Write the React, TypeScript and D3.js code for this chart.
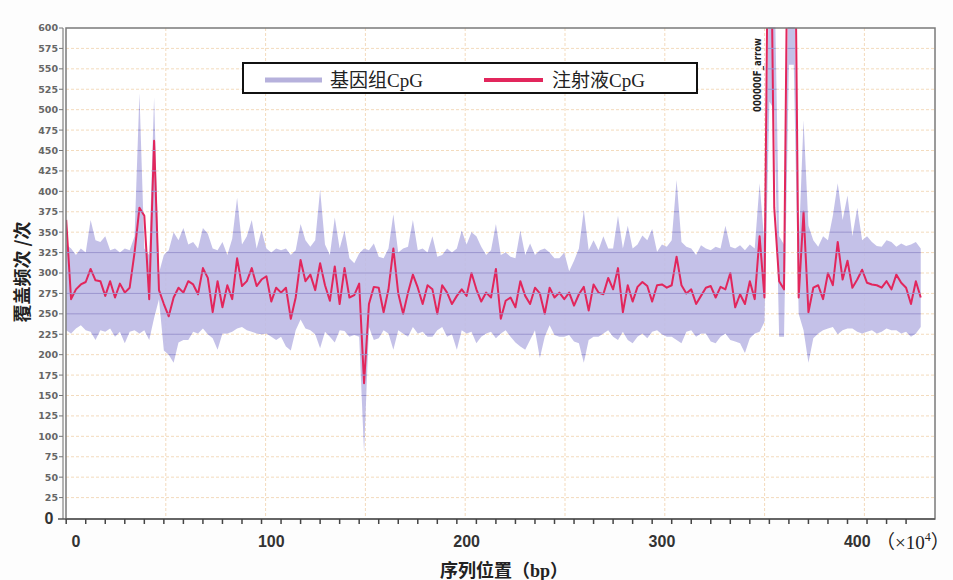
import React, { useRef, useEffect } from 'react';
import * as d3 from 'd3';

// sample grid: first sample at -5, then every 2.5 (x 10^4 bp)
const startPos = -5;
const stepPos = 2.5;

// 基因组CpG band, upper edge
const genomeUpper = [
  335, 330, 322, 330, 325, 365, 340, 338, 345, 328, 330, 325, 330, 328, 345, 520, 330, 322, 515, 300,
  322, 328, 350, 340, 355, 335, 338, 330, 355, 348, 330, 328, 338, 322, 342, 392, 335, 345, 365, 330,
  352, 330, 325, 330, 328, 330, 322, 328, 360, 340, 332, 340, 402, 335, 322, 368, 330, 352, 318, 312,
  324, 330, 328, 336, 320, 318, 330, 372, 325, 330, 332, 365, 328, 330, 325, 345, 320, 322, 330, 325,
  330, 352, 335, 350, 345, 332, 322, 328, 360, 322, 325, 320, 318, 352, 322, 336, 322, 328, 330, 325,
  318, 318, 325, 302, 315, 330, 377, 328, 340, 328, 345, 330, 330, 370, 330, 358, 330, 335, 346, 340,
  354, 326, 335, 332, 340, 414, 338, 332, 330, 322, 334, 330, 328, 332, 330, 358, 332, 330, 334, 328,
  335, 330, 410, 335, 680, 680, 345, 335, 680, 680, 330, 487, 358, 340, 332, 345, 340, 370, 410, 365,
  395, 345, 380, 340, 345, 338, 333, 332, 340, 338, 332, 336, 333, 335, 338, 330,
];

// 基因组CpG band, lower edge
const genomeLower = [
  230, 226, 232, 236, 230, 228, 218, 230, 228, 232, 222, 228, 214, 228, 230, 226, 230, 218, 245, 268,
  205, 200, 190, 215, 218, 218, 228, 226, 232, 225, 220, 206, 226, 226, 228, 232, 234, 230, 228, 226,
  225, 226, 222, 218, 222, 210, 205, 230, 243, 232, 230, 225, 208, 228, 222, 215, 230, 229, 222, 224,
  222, 80, 234, 218, 220, 230, 226, 206, 230, 226, 222, 234, 226, 228, 222, 222, 230, 234, 222, 225,
  206, 230, 226, 228, 214, 222, 226, 228, 220, 226, 230, 222, 215, 210, 206, 218, 230, 196, 222, 236,
  224, 222, 222, 224, 216, 214, 190, 218, 222, 222, 226, 230, 222, 218, 228, 218, 214, 222, 226, 220,
  228, 230, 225, 222, 222, 218, 214, 228, 230, 222, 226, 226, 216, 214, 222, 226, 218, 216, 214, 202,
  220, 226, 228, 240, 510, 500, 222, 222, 555, 555, 250, 230, 190, 220, 226, 230, 232, 234, 225, 230,
  232, 232, 228, 226, 228, 230, 226, 228, 232, 230, 230, 226, 228, 222, 226, 234,
];

// 注射液CpG coverage
const injection = [
  365, 268, 280, 286, 289, 305, 291, 290, 272, 290, 270, 287, 276, 282, 325, 380, 370, 268, 462, 279,
  262, 247, 270, 282, 276, 290, 286, 274, 306, 294, 252, 290, 258, 285, 268, 318, 284, 290, 306, 284,
  292, 296, 265, 282, 276, 282, 244, 270, 316, 290, 298, 279, 312, 285, 266, 308, 262, 306, 270, 273,
  287, 165, 262, 283, 282, 252, 280, 330, 275, 250, 276, 298, 282, 262, 285, 280, 250, 285, 276, 262,
  272, 280, 272, 300, 280, 265, 276, 270, 305, 244, 266, 270, 258, 290, 272, 262, 282, 275, 250, 282,
  270, 276, 268, 276, 260, 274, 283, 254, 286, 276, 274, 294, 280, 306, 252, 285, 265, 283, 289, 284,
  265, 285, 286, 282, 285, 320, 285, 275, 280, 262, 272, 282, 284, 270, 283, 280, 300, 258, 274, 262,
  290, 268, 345, 270, 900, 380, 290, 280, 900, 900, 270, 375, 252, 282, 285, 268, 300, 285, 338, 292,
  315, 282, 292, 304, 288, 286, 285, 282, 290, 280, 298, 288, 282, 262, 290, 270,
];

const xLabels = [0, 100, 200, 300, 400];
const yTickLabels = [25, 50, 75, 100, 125, 150, 175, 200, 225, 250, 275, 300, 325, 350, 375, 400, 425, 450, 475, 500, 525, 550, 575, 600];
const seriesNames = ['基因组CpG', '注射液CpG'];

const width = 953;
const height = 580;
const left = 66;
const right = 935;
const top = 28;
const bottom = 518;

const App = () => {
  const svgRef = useRef(null);

  useEffect(() => {
    const svg = d3.select(svgRef.current);
    svg.selectAll('*').remove();

    const data = injection.map((v, i) => ({
      pos: startPos + i * stepPos,
      red: v,
      lo: genomeLower[i],
      hi: genomeUpper[i],
    }));

    const x = d3.scaleLinear().domain([-5.1, 439.8]).range([left, right]);
    const y = d3.scaleLinear().domain([0, 600]).range([bottom, top]);

    svg.append('rect').attr('width', width).attr('height', height).attr('fill', '#fdfdfd');
    svg.append('rect').attr('x', left).attr('y', top).attr('width', right - left).attr('height', bottom - top).attr('fill', '#fff');

    const defs = svg.append('defs');
    defs.append('clipPath').attr('id', 'plotClip')
      .append('rect').attr('x', left).attr('y', top).attr('width', right - left).attr('height', bottom - top + 1);

    const area = d3.area()
      .x(d => x(d.pos))
      .y0(d => y(d.lo))
      .y1(d => y(d.hi));

    defs.append('clipPath').attr('id', 'bandClip')
      .append('path').attr('d', area(data));

    // orange dashed grid
    const grid = svg.append('g').attr('clip-path', 'url(#plotClip)').attr('opacity', 0.75);
    grid.selectAll('.hg')
      .data(yTickLabels.slice(0, -1))
      .enter()
      .append('line')
      .attr('x1', left).attr('x2', right)
      .attr('y1', d => y(d)).attr('y2', d => y(d))
      .attr('stroke', '#f0cfa8')
      .attr('stroke-dasharray', '3,2');
    grid.selectAll('.vg')
      .data(d3.range(1, 9))
      .enter()
      .append('line')
      .attr('x1', d => left + d * 99.8).attr('x2', d => left + d * 99.8)
      .attr('y1', top).attr('y2', bottom)
      .attr('stroke', '#f0cfa8')
      .attr('stroke-dasharray', '3,2');

    const plot = svg.append('g').attr('clip-path', 'url(#plotClip)');
    plot.append('path')
      .attr('d', area(data))
      .attr('fill', '#bebae5')
      .attr('fill-opacity', 0.9);

    // grid seen through the band
    const inner = svg.append('g').attr('clip-path', 'url(#bandClip)');
    inner.selectAll('line')
      .data(yTickLabels)
      .enter()
      .append('line')
      .attr('x1', left).attr('x2', right)
      .attr('y1', d => y(d)).attr('y2', d => y(d))
      .attr('stroke', '#9c96cf')
      .attr('stroke-width', 1);

    const line = d3.line()
      .x(d => x(d.pos))
      .y(d => y(d.red));

    plot.append('path')
      .attr('d', line(data))
      .attr('fill', 'none')
      .attr('stroke', '#e2265c')
      .attr('stroke-width', 2)
      .attr('stroke-linejoin', 'round');

    // frame
    svg.append('rect')
      .attr('x', left).attr('y', top)
      .attr('width', right - left).attr('height', bottom - top + 1)
      .attr('fill', 'none')
      .attr('stroke', '#7a7a7a')
      .attr('stroke-width', 1.5);
    svg.append('line')
      .attr('x1', 63).attr('x2', 63).attr('y1', top).attr('y2', bottom + 1)
      .attr('stroke', '#6a6a6a');

    // y axis
    const yAxis = svg.append('g');
    yAxis.selectAll('line')
      .data(yTickLabels)
      .enter()
      .append('line')
      .attr('x1', 59).attr('x2', 63)
      .attr('y1', d => y(d)).attr('y2', d => y(d))
      .attr('stroke', '#777');
    yAxis.selectAll('text')
      .data(yTickLabels)
      .enter()
      .append('text')
      .attr('x', 58)
      .attr('y', d => y(d))
      .attr('dy', '0.36em')
      .attr('text-anchor', 'end')
      .attr('font-family', 'DejaVu Sans')
      .attr('font-weight', 'bold')
      .attr('font-size', 9.5)
      .attr('fill', '#666')
      .text(d => d);
    svg.append('text')
      .attr('x', 49).attr('y', y(0)).attr('dy', '0.36em')
      .attr('text-anchor', 'middle')
      .attr('font-family', 'Liberation Sans')
      .attr('font-weight', 'bold')
      .attr('font-size', 16)
      .attr('fill', '#333')
      .text('0');

    // x axis
    svg.append('line')
      .attr('x1', 58).attr('x2', right).attr('y1', bottom + 1).attr('y2', bottom + 1)
      .attr('stroke', '#555').attr('stroke-width', 1.5);
    svg.append('g').selectAll('line')
      .data(d3.range(-5, 430, 10))
      .enter()
      .append('line')
      .attr('x1', d => x(d)).attr('x2', d => x(d))
      .attr('y1', bottom + 1).attr('y2', bottom + 6)
      .attr('stroke', '#444')
      .attr('stroke-width', 1.5);
    svg.append('g').selectAll('text')
      .data(xLabels)
      .enter()
      .append('text')
      .attr('x', d => x(d))
      .attr('y', 547)
      .attr('text-anchor', 'middle')
      .attr('font-family', 'Liberation Sans')
      .attr('font-weight', 'bold')
      .attr('font-size', 16)
      .attr('fill', '#333')
      .text(d => d);

    const unit = svg.append('text')
      .attr('x', 876).attr('y', 549)
      .attr('font-family', 'Liberation Serif, Noto Sans CJK SC')
      .attr('font-size', 19)
      .attr('fill', '#222');
    unit.append('tspan').text('（×10');
    unit.append('tspan').attr('font-size', 12).attr('dy', -8).text('4');
    unit.append('tspan').attr('dy', 8).text('）');

    svg.append('text')
      .attr('x', 504).attr('y', 577)
      .attr('text-anchor', 'middle')
      .attr('font-family', 'Liberation Serif, Noto Sans CJK SC')
      .attr('font-weight', 'bold')
      .attr('font-size', 18)
      .attr('fill', '#222')
      .text('序列位置（bp）');

    svg.append('text')
      .attr('transform', 'translate(29,272) rotate(-90)')
      .attr('text-anchor', 'middle')
      .attr('font-family', 'Noto Sans CJK SC')
      .attr('font-weight', 'bold')
      .attr('font-size', 18)
      .attr('fill', '#222')
      .text('覆盖频次 /次');

    svg.append('text')
      .attr('transform', 'translate(761,112) rotate(-90)')
      .attr('font-family', 'DejaVu Sans')
      .attr('font-weight', 'bold')
      .attr('font-size', 10)
      .attr('textLength', 74)
      .attr('lengthAdjust', 'spacingAndGlyphs')
      .attr('fill', '#222')
      .text('000000F_arrow');

    // legend
    const legend = svg.append('g');
    legend.append('rect')
      .attr('x', 243).attr('y', 63).attr('width', 454).attr('height', 30)
      .attr('fill', '#fff').attr('stroke', '#111').attr('stroke-width', 2);
    legend.append('line')
      .attr('x1', 265).attr('x2', 322).attr('y1', 80).attr('y2', 80)
      .attr('stroke', '#b6b1dc').attr('stroke-width', 5);
    legend.append('line')
      .attr('x1', 484).attr('x2', 543).attr('y1', 80).attr('y2', 80)
      .attr('stroke', '#e2265c').attr('stroke-width', 4);
    legend.selectAll('text')
      .data(seriesNames)
      .enter()
      .append('text')
      .attr('x', (d, i) => (i === 0 ? 330 : 552))
      .attr('y', 87)
      .attr('font-family', 'Liberation Serif, Noto Sans CJK SC')
      .attr('font-size', 19)
      .attr('fill', '#222')
      .text(d => d);
  }, []);

  return (
    <svg ref={svgRef} width={width} height={height} style={{ position: 'absolute', left: 0, top: 0 }}></svg>
  );
};

export default App;
